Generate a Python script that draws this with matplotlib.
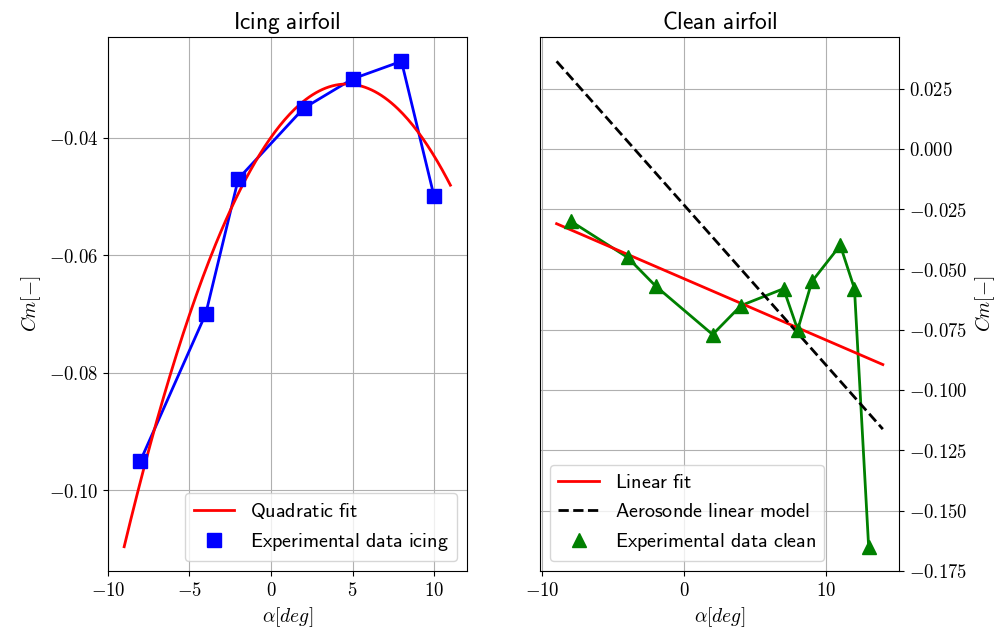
import numpy as np
import matplotlib
matplotlib.use("Agg")
import matplotlib.pyplot as plt
from matplotlib.ticker import FuncFormatter

# ---- data ----
alpha_icing = [-8, -4, -2, 2, 5, 8, 10]
cm_icing = [-0.095, -0.070, -0.047, -0.035, -0.030, -0.027, -0.050]

alpha_clean = [-8, -4, -2, 2, 4, 7, 8, 9, 11, 12, 13]
cm_clean = [-0.030, -0.045, -0.057, -0.077, -0.065, -0.058, -0.075,
            -0.055, -0.040, -0.058, -0.165]

# Aerosonde pitching-moment model: Cm = Cm0 + Cm_alpha * alpha(rad)
CM0_AEROSONDE = -0.02338
CM_ALPHA_AEROSONDE = -0.38

ICING_FIT_RANGE = (-9, 11)
CLEAN_FIT_RANGE = (-9, 14)

plt.rcParams["mathtext.fontset"] = "cm"
plt.rcParams["xtick.labelsize"] = 13.5
plt.rcParams["ytick.labelsize"] = 13.5

TITLE_SIZE = 16.8
LABEL_SIZE = 14
LEGEND_SIZE = 14.5


def sf(s):
    # Computer Modern sans via mathtext, like the LaTeX original
    return r"$\mathsf{" + s.replace(" ", r"\ ") + "}$"


def math_fmt(decimals):
    def f(v, _pos):
        txt = f"{v:.{decimals}f}"
        if float(txt) == 0:
            txt = f"{0:.{decimals}f}"
        return "$" + txt + "$"
    return FuncFormatter(f)


fig = plt.figure(figsize=(10.08, 6.34), dpi=100)
ax1 = fig.add_axes([0.107, 0.0994, 0.356, 0.8422])
ax2 = fig.add_axes([0.536, 0.0994, 0.356, 0.8422])

# --- icing ---
a_fit = np.linspace(*ICING_FIT_RANGE, 200)
p2 = np.polyfit(alpha_icing, cm_icing, 2)
ax1.plot(alpha_icing, cm_icing, "-", color="blue", linewidth=2)
ax1.plot(a_fit, np.polyval(p2, a_fit), "-", color="red", linewidth=2,
         label=sf("Quadratic fit"))
ax1.plot(alpha_icing, cm_icing, "s", color="blue", markersize=9.5,
         label=sf("Experimental data icing"))
ax1.set_title(sf("Icing airfoil"), fontsize=TITLE_SIZE)
ax1.set_xlabel(r"$\alpha[deg]$", fontsize=LABEL_SIZE)
ax1.set_ylabel(r"$Cm[-]$", fontsize=LABEL_SIZE)
ax1.set_yticks([-0.10, -0.08, -0.06, -0.04])
ax1.xaxis.set_major_formatter(math_fmt(0))
ax1.yaxis.set_major_formatter(math_fmt(2))
ax1.grid(True)
ax1.legend(loc="lower right", fontsize=LEGEND_SIZE, handlelength=2.0)

# --- clean ---
c_fit = np.linspace(*CLEAN_FIT_RANGE, 200)
p1 = np.polyfit(alpha_clean, cm_clean, 1)
cm_aero = CM0_AEROSONDE + CM_ALPHA_AEROSONDE * np.deg2rad(c_fit)
ax2.plot(alpha_clean, cm_clean, "-", color="green", linewidth=2)
ax2.plot(c_fit, np.polyval(p1, c_fit), "-", color="red", linewidth=2,
         label=sf("Linear fit"))
ax2.plot(c_fit, cm_aero, "--", color="black", linewidth=2,
         label=sf("Aerosonde linear model"))
ax2.plot(alpha_clean, cm_clean, "^", color="green", markersize=9.5,
         label=sf("Experimental data clean"))
ax2.set_title(sf("Clean airfoil"), fontsize=TITLE_SIZE)
ax2.set_xlabel(r"$\alpha[deg]$", fontsize=LABEL_SIZE)
ax2.set_ylabel(r"$Cm[-]$", fontsize=LABEL_SIZE)
ax2.yaxis.tick_right()
ax2.yaxis.set_label_position("right")
ax2.set_xticks([-10, 0, 10])
ax2.set_yticks(np.arange(-0.175, 0.026, 0.025))
ax2.xaxis.set_major_formatter(math_fmt(0))
ax2.yaxis.set_major_formatter(math_fmt(3))
ax2.grid(True)
ax2.legend(loc="lower left", fontsize=LEGEND_SIZE, handlelength=2.0)

fig.savefig("out.png", dpi=100)
